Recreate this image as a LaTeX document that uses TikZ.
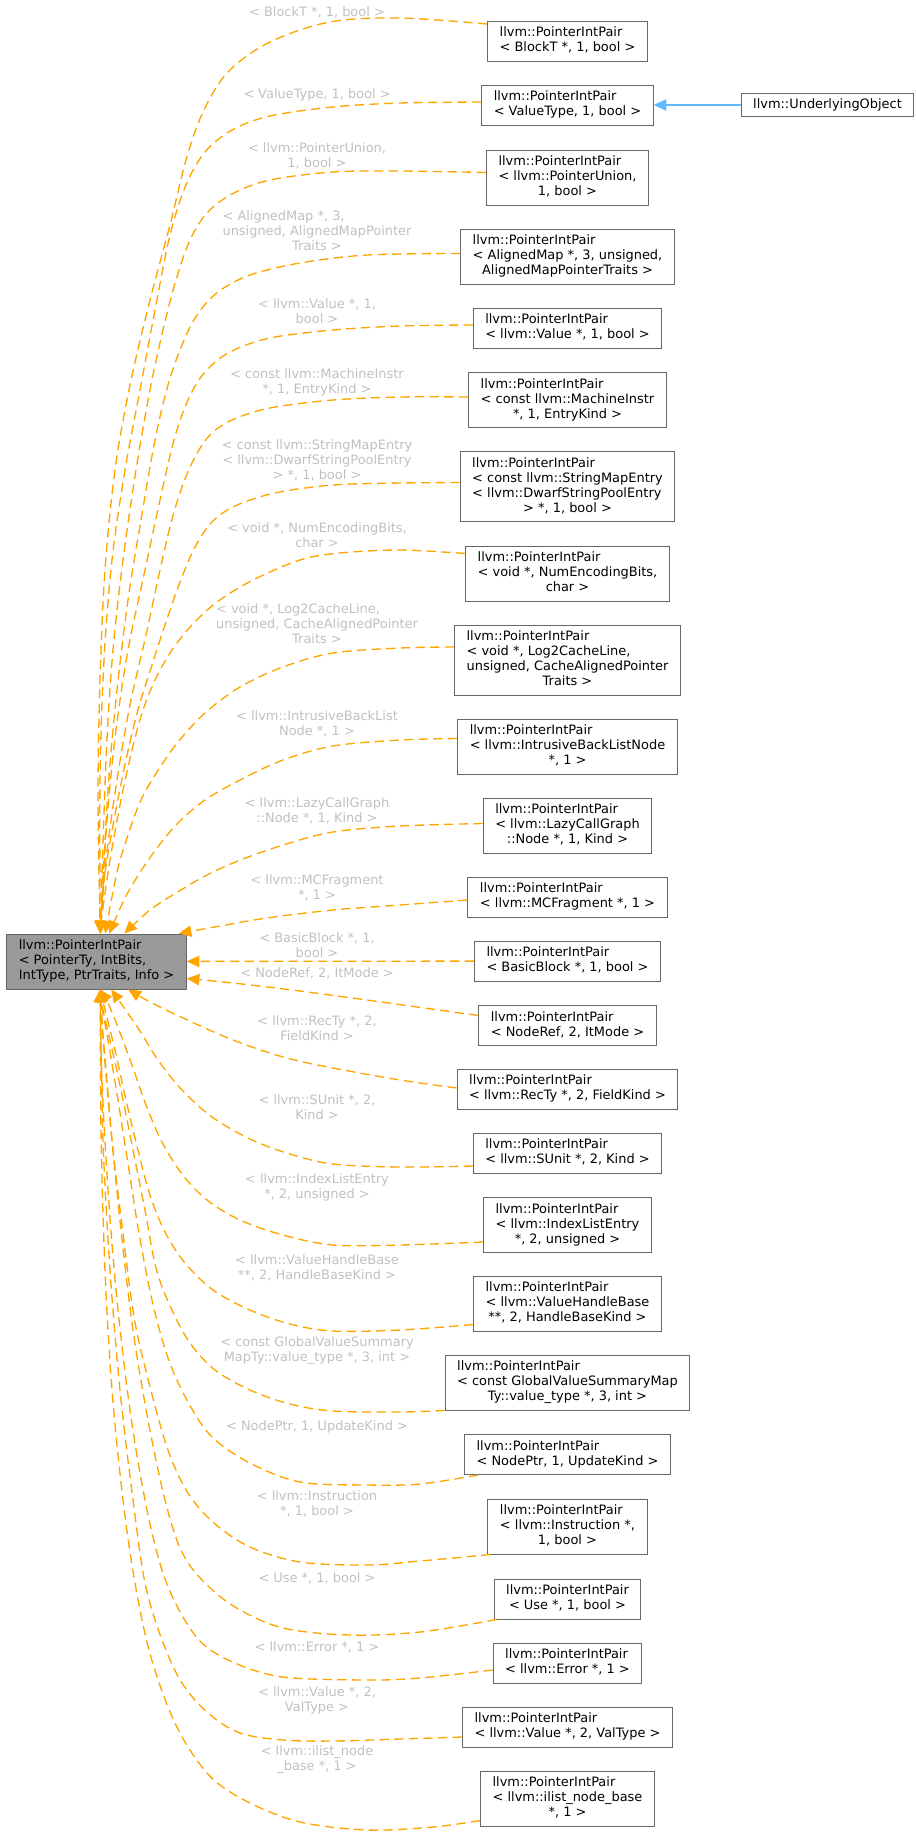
\documentclass[tikz,border=0pt]{standalone}
\usepackage{fontspec}
\setmainfont{DejaVu Sans}
\usetikzlibrary{arrows.meta,calc}
\definecolor{edgeorange}{HTML}{FFA500}
\definecolor{steelblue}{HTML}{63B8FF}
\definecolor{boxline}{HTML}{666666}
\definecolor{basefill}{HTML}{999999}
\definecolor{labelgrey}{HTML}{C0C0C0}
% class label: all lines but the last left-aligned, the last one centred
\newcommand{\cbox}[2]{\begin{tabular}{@{}l@{}}#1\\\multicolumn{1}{@{}c@{}}{#2}\end{tabular}}

\begin{document}
\begin{tikzpicture}[x=0.75pt,y=-0.75pt,
  txt/.style={font=\fontsize{9.7}{11.25}\selectfont},
  cls/.style={txt, draw=boxline, fill=white, line width=0.75pt, inner xsep=9pt, inner ysep=3.75pt},
  basecls/.style={cls, fill=basefill},
  lbl/.style={txt, text=labelgrey, align=center, inner sep=0pt},
  inh/.style={draw=edgeorange, line width=1pt, dash pattern=on 7pt off 4pt,
              -{Triangle[length=9.5pt,width=8.5pt]}},
  spec/.style={draw=steelblue, line width=1pt, -{Triangle[length=9.5pt,width=8.5pt]}},
  curve/.style={smooth, tension=0.55}
]
\useasboundingbox (0,0) rectangle (915,1836);

% ---------------- classes ----------------
\node[basecls] (base) at (96.5,961.5) {\cbox{llvm::PointerIntPair\\< PointerTy, IntBits,}{IntType, PtrTraits, Info >}};

\node[cls] (c1)  at (567.5,41)    {\cbox{llvm::PointerIntPair}{< BlockT *, 1, bool >}};
\node[cls] (c2)  at (567.5,105)   {\cbox{llvm::PointerIntPair}{< ValueType, 1, bool >}};
\node[cls] (c3)  at (567.5,177.5) {\cbox{llvm::PointerIntPair\\< llvm::PointerUnion,}{1, bool >}};
\node[cls] (c4)  at (567.5,256.5) {\cbox{llvm::PointerIntPair\\< AlignedMap *, 3, unsigned,}{AlignedMapPointerTraits >}};
\node[cls] (c5)  at (567.5,328)   {\cbox{llvm::PointerIntPair}{< llvm::Value *, 1, bool >}};
\node[cls] (c6)  at (567.5,400)   {\cbox{llvm::PointerIntPair\\< const llvm::MachineInstr}{*, 1, EntryKind >}};
\node[cls] (c7)  at (567.5,486.5) {\cbox{llvm::PointerIntPair\\< const llvm::StringMapEntry\\< llvm::DwarfStringPoolEntry}{> *, 1, bool >}};
\node[cls] (c8)  at (567.5,573.5) {\cbox{llvm::PointerIntPair\\< void *, NumEncodingBits,}{char >}};
\node[cls] (c9)  at (567.5,660)   {\cbox{llvm::PointerIntPair\\< void *, Log2CacheLine,\\ unsigned, CacheAlignedPointer}{Traits >}};
\node[cls] (c10) at (567.5,746.5) {\cbox{llvm::PointerIntPair\\< llvm::IntrusiveBackListNode}{*, 1 >}};
\node[cls] (c11) at (567.5,825.5) {\cbox{llvm::PointerIntPair\\< llvm::LazyCallGraph}{::Node *, 1, Kind >}};
\node[cls] (c12) at (567.5,897)   {\cbox{llvm::PointerIntPair}{< llvm::MCFragment *, 1 >}};
\node[cls] (c13) at (567.5,961)   {\cbox{llvm::PointerIntPair}{< BasicBlock *, 1, bool >}};
\node[cls] (c14) at (567.5,1025.5){\cbox{llvm::PointerIntPair}{< NodeRef, 2, ItMode >}};
\node[cls] (c15) at (567.5,1089)  {\cbox{llvm::PointerIntPair}{< llvm::RecTy *, 2, FieldKind >}};
\node[cls] (c16) at (567.5,1153)  {\cbox{llvm::PointerIntPair}{< llvm::SUnit *, 2, Kind >}};
\node[cls] (c17) at (567.5,1225)  {\cbox{llvm::PointerIntPair\\< llvm::IndexListEntry}{*, 2, unsigned >}};
\node[cls] (c18) at (567.5,1303.5){\cbox{llvm::PointerIntPair\\< llvm::ValueHandleBase}{**, 2, HandleBaseKind >}};
\node[cls] (c19) at (567.5,1382.5){\cbox{llvm::PointerIntPair\\< const GlobalValueSummaryMap}{Ty::value\_type *, 3, int >}};
\node[cls] (c20) at (567.5,1454.5){\cbox{llvm::PointerIntPair}{< NodePtr, 1, UpdateKind >}};
\node[cls] (c21) at (567.5,1526.5){\cbox{llvm::PointerIntPair\\< llvm::Instruction *,}{1, bool >}};
\node[cls] (c22) at (567.5,1599)  {\cbox{llvm::PointerIntPair}{< Use *, 1, bool >}};
\node[cls] (c23) at (567.5,1663)  {\cbox{llvm::PointerIntPair}{< llvm::Error *, 1 >}};
\node[cls] (c24) at (567.5,1727)  {\cbox{llvm::PointerIntPair}{< llvm::Value *, 2, ValType >}};
\node[cls] (c25) at (567.5,1798.5){\cbox{llvm::PointerIntPair\\< llvm::ilist\_node\_base}{*, 1 >}};

\node[cls] (uo) at (827.5,105) {llvm::UnderlyingObject};

% ---------------- attachment points ----------------
\coordinate (bt0) at ($(base.north west)+(94,0)$);
\coordinate (bt1) at ($(base.north west)+(99,0)$);
\coordinate (bt2) at ($(base.north west)+(103,0)$);
\coordinate (bt3) at ($(base.north west)+(118,0)$);
\coordinate (bt4) at ($(base.north east)+(-8,0)$);
\coordinate (be1) at ($(base.east)+(0,17)$);
\coordinate (bb0) at ($(base.south west)+(94,0)$);
\coordinate (bb1) at ($(base.south west)+(105,0)$);
\coordinate (bb2) at ($(base.south west)+(122,0)$);

\coordinate (s1)  at ($(c1.west)+(0,-17)$);
\coordinate (s2)  at ($(c2.west)+(0,-3)$);
\coordinate (s3)  at ($(c3.west)+(0,-5)$);
\coordinate (s4)  at ($(c4.west)+(0,-3)$);
\coordinate (s5)  at ($(c5.west)+(0,-3)$);
\coordinate (s6)  at ($(c6.west)+(0,-3)$);
\coordinate (s7)  at ($(c7.west)+(0,-4)$);
\coordinate (s8)  at ($(c8.west)+(0,-20)$);
\coordinate (s9)  at ($(c9.west)+(0,-13)$);
\coordinate (s10) at ($(c10.west)+(0,-8)$);
\coordinate (s11) at ($(c11.west)+(0,-2)$);
\coordinate (s12) at ($(c12.west)+(0,3)$);
\coordinate (s14) at ($(c14.west)+(0,-10)$);
\coordinate (s15) at ($(c15.west)+(0,-1)$);
\coordinate (s16) at ($(c16.west)+(0,13)$);
\coordinate (s17) at ($(c17.west)+(0,17)$);
\coordinate (s18) at ($(c18.west)+(0,21)$);
\coordinate (s19) at (c19.south west);
\coordinate (s20) at ($(c20.south west)+(14,0)$);
\coordinate (s21) at ($(c21.south west)+(3,0)$);
\coordinate (s22) at ($(c22.south west)+(3,0)$);
\coordinate (s23) at ($(c23.west)+(0,7)$);
\coordinate (s24) at ($(c24.west)+(0,10)$);
\coordinate (s25) at ($(c25.west)+(0,22)$);

% ---------------- template instantiation edges ----------------
\draw[inh] plot[curve] coordinates {(s1) (400,18) (330,22) (270,42) (228,72) (203,112) (186,160) (170,225) (150,300) (130,385) (115,470) (105,570) (100,680) (98,800) (bt0)};
\draw[inh] plot[curve] coordinates {(s2) (400,103) (333,107) (270,116) (232,130) (205,152) (186,185) (170,235) (155,310) (140,390) (125,470) (112,560) (104,660) (100,780) (bt0)};
\draw[inh] plot[curve] coordinates {(s3) (400,171) (333,172) (270,180) (232,194) (207,213) (190,240) (176,280) (163,330) (150,390) (136,470) (123,560) (113,650) (106,760) (bt0)};
\draw[inh] plot[curve] coordinates {(s4) (367,255) (300,263) (250,275) (218,292) (197,315) (182,345) (168,385) (155,440) (141,520) (128,600) (117,690) (108,790) (bt0)};
\draw[inh] plot[curve] coordinates {(s5) (400,326) (333,330) (270,338) (230,352) (205,372) (188,400) (174,440) (160,500) (145,570) (128,650) (116,730) (107,820) (bt0)};
\draw[inh] plot[curve] coordinates {(s6) (400,397) (333,400) (270,408) (232,420) (210,435) (195,457) (182,487) (171,523) (160,570) (146,635) (130,705) (117,780) (106,860) (bt0)};
\draw[inh] plot[curve] coordinates {(s7) (400,483) (333,485) (275,493) (235,506) (212,522) (195,547) (180,582) (166,622) (152,665) (138,710) (126,760) (114,820) (104,880) (bt0)};
\draw[inh] plot[curve] coordinates {(s8) (400,550) (340,553) (300,560) (253,580) (217,602) (192,625) (172,650) (156,678) (143,710) (132,750) (121,800) (110,860) (102,915) (bt0)};
\draw[inh] plot[curve] coordinates {(s9) (400,648) (333,653) (283,667) (240,687) (205,713) (178,742) (157,772) (141,800) (128,835) (117,872) (bt1)};
\draw[inh] plot[curve] coordinates {(s10) (400,740) (333,746) (283,760) (240,780) (205,800) (178,823) (157,848) (139,874) (124,900) (bt2)};
\draw[inh] plot[curve] coordinates {(s11) (400,826) (333,832) (283,845) (238,861) (205,876) (176,893) (150,910) (bt3)};
\draw[inh] plot[curve] coordinates {(s12) (400,905) (333,910) (267,918) (220,926) (bt4)};
\draw[inh] (c13) -- (base);
\draw[inh] (s14) .. controls (380,1002) and (280,987) .. (be1);
\draw[inh] plot[curve] coordinates {(s15) (400,1080) (333,1068) (283,1057) (233,1040) (183,1018) (150,1002) (bb2)};
\draw[inh] plot[curve] coordinates {(s16) (400,1167) (333,1164) (290,1154) (250,1139) (212,1117) (182,1090) (158,1060) (138,1028) (bb1)};
\draw[inh] plot[curve] coordinates {(s17) (400,1245) (333,1245) (283,1235) (240,1220) (207,1200) (182,1174) (162,1142) (146,1105) (132,1065) (119,1030) (108,1003) (bb0)};
\draw[inh] plot[curve] coordinates {(s18) (400,1330) (333,1331) (290,1324) (250,1310) (213,1290) (185,1263) (165,1232) (150,1195) (138,1150) (126,1100) (115,1050) (105,1010) (bb0)};
\draw[inh] plot[curve] coordinates {(s19) (400,1412) (333,1411) (290,1404) (250,1390) (215,1370) (190,1343) (171,1308) (156,1268) (145,1210) (133,1150) (121,1090) (110,1040) (102,1005) (bb0)};
\draw[inh] plot[curve] coordinates {(s20) (420,1484) (367,1485) (300,1482) (250,1463) (212,1437) (188,1402) (168,1358) (152,1300) (139,1233) (129,1170) (118,1100) (108,1040) (101,1003) (bb0)};
\draw[inh] plot[curve] coordinates {(s21) (420,1561) (367,1565) (300,1562) (250,1547) (214,1523) (188,1493) (168,1450) (149,1383) (134,1317) (123,1233) (113,1150) (106,1070) (101,1012) (bb0)};
\draw[inh] plot[curve] coordinates {(s22) (420,1632) (350,1635) (283,1628) (235,1607) (202,1580) (181,1550) (165,1500) (148,1420) (133,1330) (121,1230) (111,1130) (104,1050) (bb0)};
\draw[inh] plot[curve] coordinates {(s23) (420,1678) (367,1680) (283,1677) (235,1663) (202,1643) (179,1610) (161,1567) (145,1500) (130,1410) (117,1300) (108,1190) (102,1080) (bb0)};
\draw[inh] plot[curve] coordinates {(s24) (400,1739) (333,1741) (283,1740) (240,1733) (208,1713) (182,1683) (162,1640) (145,1583) (133,1500) (120,1390) (110,1270) (103,1140) (bb0)};
\draw[inh] plot[curve] coordinates {(s25) (433,1827) (367,1830) (300,1822) (250,1803) (214,1780) (188,1747) (168,1707) (149,1650) (135,1583) (123,1500) (112,1390) (105,1270) (101,1130) (bb0)};

% ---------------- public inheritance ----------------
\draw[spec] (uo.west) -- (c2.east);

% ---------------- template argument labels ----------------
\node[lbl] (l1)  at (317,12)   {< BlockT *, 1, bool >};
\node[lbl] (l2)  at (317,95)   {< ValueType, 1, bool >};
\node[lbl] (l3)  at (317,156)  {< llvm::PointerUnion,\\1, bool >};
\node[lbl] (l4)  at (317,232)  {\cbox{< AlignedMap *, 3,\\unsigned, AlignedMapPointer}{Traits >}};
\node[lbl] (l5)  at (317,311)  {< llvm::Value *, 1,\\bool >};
\node[lbl] (l6)  at (317,382)  {< const llvm::MachineInstr\\*, 1, EntryKind >};
\node[lbl] (l7)  at (317,460)  {< const llvm::StringMapEntry\\< llvm::DwarfStringPoolEntry\\> *, 1, bool >};
\node[lbl] (l8)  at (317,535)  {< void *, NumEncodingBits,\\char >};
\node[lbl] (l9)  at (317,625)  {\cbox{< void *, Log2CacheLine,\\unsigned, CacheAlignedPointer}{Traits >}};
\node[lbl] (l10) at (317,724)  {< llvm::IntrusiveBackList\\Node *, 1 >};
\node[lbl] (l11) at (317,811)  {< llvm::LazyCallGraph\\::Node *, 1, Kind >};
\node[lbl] (l12) at (317,888)  {< llvm::MCFragment\\*, 1 >};
\node[lbl] (l13) at (317,945)  {< BasicBlock *, 1,\\bool >};
\node[lbl] (l14) at (317,973)  {< NodeRef, 2, ItMode >};
\node[lbl] (l15) at (317,1028) {< llvm::RecTy *, 2,\\FieldKind >};
\node[lbl] (l16) at (317,1107) {< llvm::SUnit *, 2,\\Kind >};
\node[lbl] (l17) at (317,1187) {< llvm::IndexListEntry\\*, 2, unsigned >};
\node[lbl] (l18) at (317,1268) {< llvm::ValueHandleBase\\**, 2, HandleBaseKind >};
\node[lbl] (l19) at (317,1351) {< const GlobalValueSummary\\MapTy::value\_type *, 3, int >};
\node[lbl] (l20) at (317,1427) {< NodePtr, 1, UpdateKind >};
\node[lbl] (l21) at (317,1504) {< llvm::Instruction\\*, 1, bool >};
\node[lbl] (l22) at (317,1578) {< Use *, 1, bool >};
\node[lbl] (l23) at (317,1647) {< llvm::Error *, 1 >};
\node[lbl] (l24) at (317,1700) {< llvm::Value *, 2,\\ValType >};
\node[lbl] (l25) at (317,1760) {< llvm::ilist\_node\\\_base *, 1 >};
\end{tikzpicture}
\end{document}
